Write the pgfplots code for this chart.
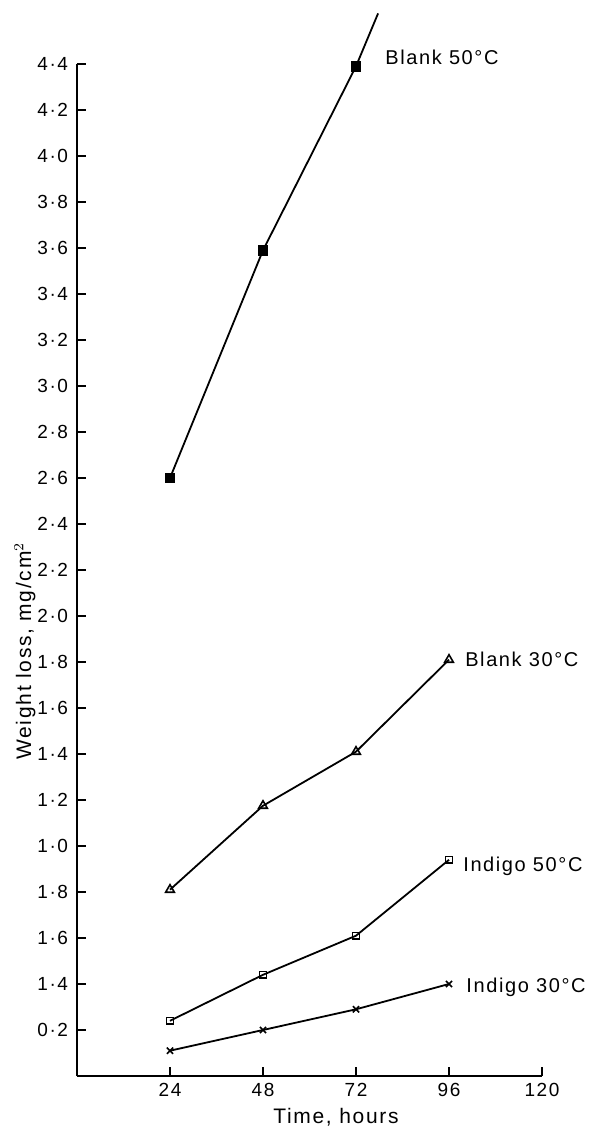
\documentclass[border=0pt]{standalone}
\usepackage{fontspec}
\setmainfont{Liberation Sans}[LetterSpace=8]
\usepackage{pgfplots}
\pgfplotsset{compat=1.18}
\begin{document}
\begin{tikzpicture}
\useasboundingbox (-38.5pt,-25pt) rectangle (256pt,538pt);
\begin{axis}[
  at={(0,0)}, anchor=south west,
  x=1.9375pt, y=115pt,
  xmin=0, xmax=120, ymin=0, ymax=4.4,
  enlargelimits=false,
  clip=false,
  axis x line=bottom, axis y line=left,
  axis line style={-, line width=1.1pt},
  tick align=inside,
  major tick length=4.5pt,
  tick style={black, line width=1.1pt},
  xtick={24,48,72,96,120},
  xticklabels={24,48,72,96,120},
  ytick={0.2,0.4,0.6,0.8,1.0,1.2,1.4,1.6,1.8,2.0,2.2,2.4,2.6,2.8,3.0,3.2,3.4,3.6,3.8,4.0,4.2,4.4},
  yticklabels={0·2,1·4,1·6,1·8,1·0,1·2,1·4,1·6,1·8,2·0,2·2,2·4,2·6,2·8,3·0,3·2,3·4,3·6,3·8,4·0,4·2,4·4},
  ticklabel style={font=\fontsize{9.5}{11}\selectfont},
  yticklabel style={xshift=-1pt},
  xlabel={Time, hours},
  ylabel={Weight loss, mg/cm$^2$},
  label style={font=\fontsize{10.5}{12}\selectfont},
  xlabel style={at={(axis description cs:0.557,-0.0405)}, anchor=center},
  ylabel style={at={(axis description cs:-0.112,0.42)}, anchor=center},
  every axis plot/.append style={black, line width=0.9pt},
]
% Blank 50 C
\addplot[mark=square*, mark size=2.2pt, mark indices={1,2,3}] coordinates {(24,2.60) (48,3.59) (72,4.39) (77.7,4.62)};
% Blank 30 C
\addplot[mark=triangle, mark size=2.5pt, mark options={line width=0.8pt}] coordinates {(24,0.81) (48,1.175) (72,1.41) (96,1.81)};
% Indigo 50 C
\addplot[mark=square, mark size=1.7pt, mark options={line width=0.8pt}] coordinates {(24,0.24) (48,0.44) (72,0.61) (96,0.94)};
% Indigo 30 C
\addplot[mark=x, mark size=2.2pt, mark options={line width=0.8pt}] coordinates {(24,0.11) (48,0.20) (72,0.29) (96,0.40)};
\node[anchor=west, inner sep=0pt, font=\fontsize{10}{12}\selectfont] at (axis cs:79.5,4.43) {Blank 50°C};
\node[anchor=west, inner sep=0pt, font=\fontsize{10}{12}\selectfont] at (axis cs:100.1,1.81) {Blank 30°C};
\node[anchor=west, inner sep=0pt, font=\fontsize{10}{12}\selectfont] at (axis cs:99.6,0.913) {Indigo 50°C};
\node[anchor=west, inner sep=0pt, font=\fontsize{10}{12}\selectfont] at (axis cs:100.4,0.387) {Indigo 30°C};
\end{axis}
\end{tikzpicture}
\end{document}
